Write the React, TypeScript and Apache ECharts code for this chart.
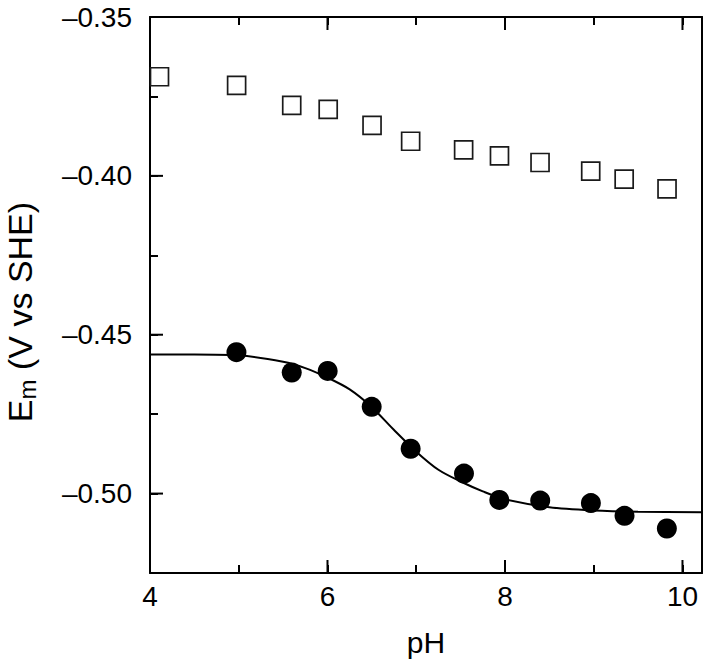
import React, { useEffect, useRef } from "react";
import * as echarts from "echarts";

// Filled circles (pH, Em)
const circlePH = [4.974, 5.597, 6.002, 6.498, 6.937, 7.538, 7.936, 8.397, 8.968, 9.347, 9.824];
const circleEm = [-0.4555, -0.4619, -0.4614, -0.4727, -0.4859, -0.4937, -0.502, -0.5022, -0.503, -0.507, -0.511];

// Open squares (pH, Em)
const squarePH = [4.107, 4.976, 5.597, 6.008, 6.502, 6.937, 7.534, 7.938, 8.395, 8.966, 9.343, 9.826];
const squareEm = [-0.3688, -0.3715, -0.3778, -0.3791, -0.3841, -0.3891, -0.3918, -0.3937, -0.3958, -0.3985, -0.401, -0.4041];

// Fit curve
const fitPH = [4.0, 4.5, 5.0, 5.5, 5.75, 6.0, 6.25, 6.5, 6.75, 7.0, 7.25, 7.5, 7.75, 8.0, 8.5, 9.0, 9.5, 10.22];
const fitEm = [-0.4562, -0.4562, -0.4565, -0.4585, -0.4605, -0.4635, -0.4672, -0.4728, -0.48, -0.4868, -0.4925, -0.4962, -0.4993, -0.5018, -0.5043, -0.5053, -0.5057, -0.5059];

// Tick labels / major tick positions
const xMajorTicks = [4, 6, 8, 10];
const yMajorTicks = [-0.5, -0.45, -0.4, -0.35];

const X_MIN = 4;
const X_MAX = 10.22;
const X_MINOR_STEP = 1;
const Y_MIN = -0.525;
const Y_MAX = -0.35;
const Y_MINOR_STEP = 0.025;

const FONT = "Liberation Sans, Arial, Helvetica, sans-serif";
const MAJOR_LEN = 13;

const isMajor = (v: number, list: number[]) => list.some((m) => Math.abs(m - v) < 1e-9);

export default function App() {
  const ref = useRef<HTMLDivElement>(null);

  useEffect(() => {
    const chart = echarts.init(ref.current!, null, { renderer: "svg" });

    const tickStyle = { color: "#000", width: 2 };
    const xBase = {
      type: "value" as const,
      min: X_MIN,
      max: X_MAX,
      interval: X_MINOR_STEP,
      splitLine: { show: false },
    };
    const yBase = {
      type: "value" as const,
      min: Y_MIN,
      max: Y_MAX,
      interval: Y_MINOR_STEP,
      splitLine: { show: false },
    };

    const option: any = {
      animation: false,
      backgroundColor: "#fff",
      grid: { left: 150, right: 7, top: 17, bottom: 86, containLabel: false, outerBoundsMode: "none" },
      xAxis: [
        {
          ...xBase,
          position: "bottom",
          axisLine: { show: true, lineStyle: { color: "#000", width: 2 } },
          axisTick: { show: true, inside: true, length: 8, lineStyle: tickStyle },
          axisLabel: {
            show: true,
            color: "#000",
            fontSize: 28,
            fontFamily: FONT,
            margin: 9,
            showMaxLabel: false,
            formatter: (v: number) => (isMajor(v, xMajorTicks) ? String(Math.round(v)) : ""),
          },
          name: "pH",
          nameLocation: "middle",
          nameGap: 54,
          nameTextStyle: { color: "#000", fontSize: 30, fontFamily: FONT },
        },
        {
          ...xBase,
          position: "top",
          axisLine: { show: true, lineStyle: { color: "#000", width: 2 } },
          axisTick: { show: true, inside: true, length: 8, lineStyle: tickStyle },
          axisLabel: { show: false },
        },
      ],
      yAxis: [
        {
          ...yBase,
          position: "left",
          axisLine: { show: true, lineStyle: { color: "#000", width: 2 } },
          axisTick: { show: true, inside: true, length: 8, lineStyle: tickStyle },
          axisLabel: {
            show: true,
            color: "#000",
            fontSize: 28,
            fontFamily: FONT,
            margin: 18,
            formatter: (v: number) =>
              isMajor(v, yMajorTicks) ? v.toFixed(2).replace("-", "\u2013") : "",
          },
          name: "{e|E}{s|m}{e| (V vs SHE)}",
          nameLocation: "middle",
          nameRotate: 90,
          nameGap: 111,
          nameTextStyle: {
            color: "#000",
            fontFamily: FONT,
            padding: [0, 34, 0, 0],
            rich: {
              e: { fontSize: 34, fontFamily: FONT, color: "#000", lineHeight: 34 },
              s: { fontSize: 24, fontFamily: FONT, color: "#000", verticalAlign: "bottom", lineHeight: 38 },
            },
          },
        },
        {
          ...yBase,
          position: "right",
          axisLine: { show: true, lineStyle: { color: "#000", width: 2 } },
          axisTick: { show: false },
          axisLabel: { show: false },
        },
      ],
      series: [
        {
          type: "line",
          xAxisIndex: 0,
          yAxisIndex: 0,
          data: fitPH.map((x, i) => [x, fitEm[i]]),
          showSymbol: false,
          smooth: 0.3,
          lineStyle: { color: "#000", width: 2 },
          clip: true,
          silent: true,
          z: 2,
        },
        {
          type: "scatter",
          xAxisIndex: 0,
          yAxisIndex: 0,
          data: squarePH.map((x, i) => [x, squareEm[i]]),
          symbol: "rect",
          symbolSize: 18,
          itemStyle: { color: "#fff", borderColor: "#1a1a1a", borderWidth: 1.7, opacity: 1 },
          z: 3,
        },
        {
          type: "scatter",
          xAxisIndex: 0,
          yAxisIndex: 0,
          data: circlePH.map((x, i) => [x, circleEm[i]]),
          symbol: "circle",
          symbolSize: 20,
          itemStyle: { color: "#000", opacity: 1 },
          z: 4,
        },
        // major x ticks (bottom and top), placed through the axis scale
        {
          type: "custom",
          xAxisIndex: 0,
          yAxisIndex: 0,
          silent: true,
          data: xMajorTicks.map((v) => [v, Y_MIN]),
          renderItem: (_params: any, api: any) => {
            const v = api.value(0);
            const b = api.coord([v, Y_MIN]);
            const t = api.coord([v, Y_MAX]);
            const style = { stroke: "#000", lineWidth: 2 };
            return {
              type: "group",
              children: [
                { type: "line", shape: { x1: b[0], y1: b[1], x2: b[0], y2: b[1] - MAJOR_LEN }, style },
                { type: "line", shape: { x1: t[0], y1: t[1], x2: t[0], y2: t[1] + MAJOR_LEN }, style },
              ],
            };
          },
          z: 5,
        },
        // major y ticks (left)
        {
          type: "custom",
          xAxisIndex: 0,
          yAxisIndex: 0,
          silent: true,
          data: yMajorTicks.map((v) => [X_MIN, v]),
          renderItem: (_params: any, api: any) => {
            const p = api.coord([X_MIN, api.value(1)]);
            return {
              type: "line",
              shape: { x1: p[0], y1: p[1], x2: p[0] + MAJOR_LEN, y2: p[1] },
              style: { stroke: "#000", lineWidth: 2 },
            };
          },
          z: 5,
        },
      ],
    };

    chart.setOption(option);
    return () => chart.dispose();
  }, []);

  return (
    <div
      ref={ref}
      style={{ position: "absolute", left: 0, top: 0, width: 709, height: 659 }}
    />
  );
}
